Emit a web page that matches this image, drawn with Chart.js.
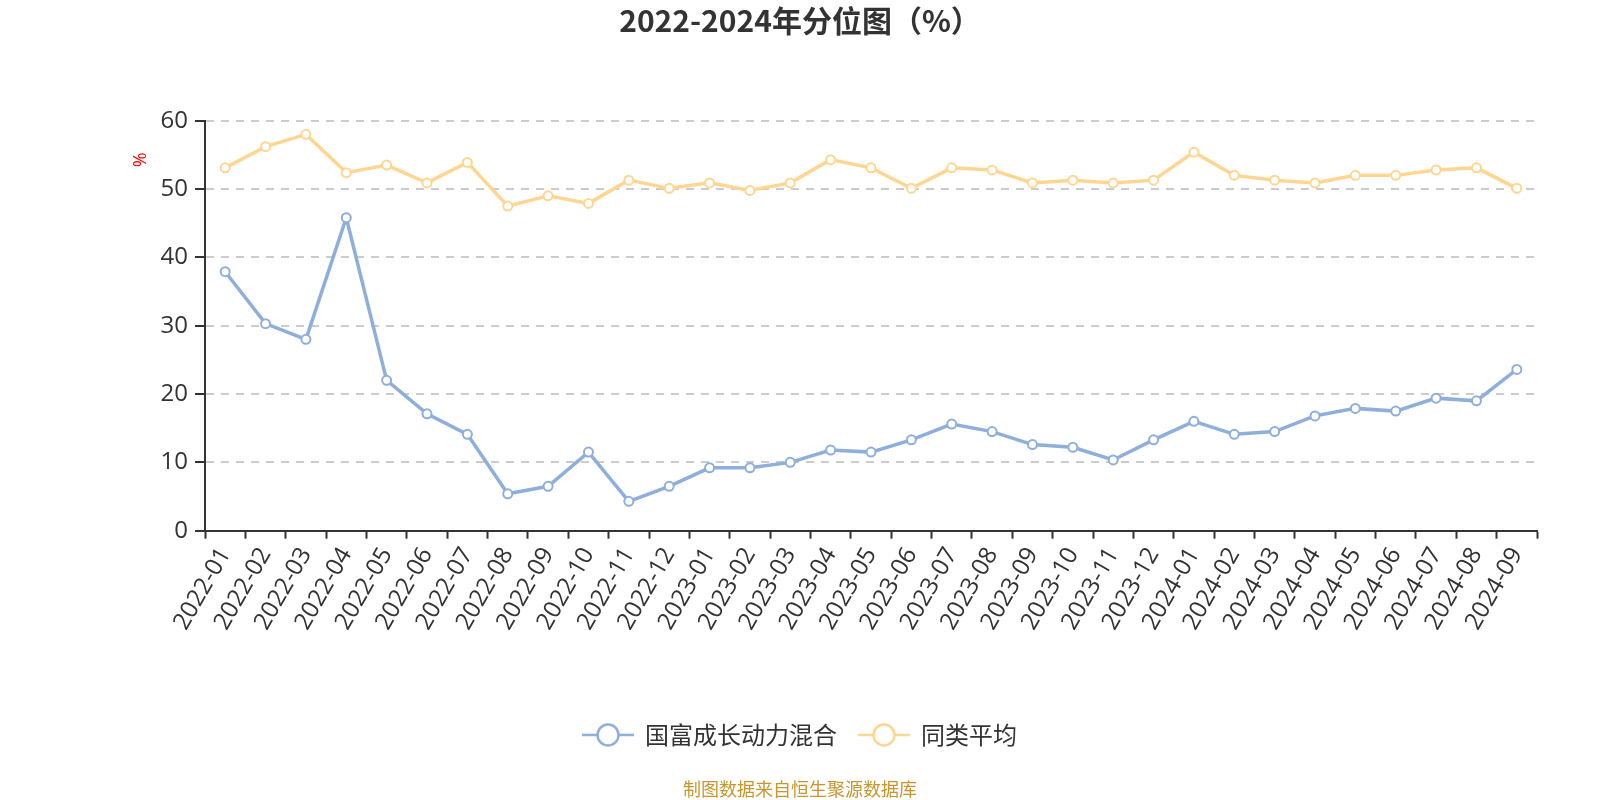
<!DOCTYPE html>
<html>
<head>
<meta charset="utf-8">
<script src="https://cdn.jsdelivr.net/npm/chart.js@4/dist/chart.umd.min.js"></script>
<style>
  html, body { margin: 0; padding: 0; background: #fff; }
  #wrap { width: 1600px; height: 800px; position: relative; }
</style>
</head>
<body>
<div id="wrap"><canvas id="c" width="1600" height="800"></canvas></div>
<script>
const categories = ['2022-01','2022-02','2022-03','2022-04','2022-05','2022-06','2022-07','2022-08','2022-09','2022-10','2022-11','2022-12',
  '2023-01','2023-02','2023-03','2023-04','2023-05','2023-06','2023-07','2023-08','2023-09','2023-10','2023-11','2023-12',
  '2024-01','2024-02','2024-03','2024-04','2024-05','2024-06','2024-07','2024-08','2024-09'];
const fundValues = [37.9, 30.3, 28.0, 45.8, 22.0, 17.1, 14.1, 5.4, 6.5, 11.5, 4.3, 6.5,
  9.2, 9.2, 10.0, 11.8, 11.5, 13.3, 15.6, 14.5, 12.6, 12.2, 10.35, 13.3,
  16.0, 14.1, 14.5, 16.8, 17.9, 17.5, 19.4, 19.0, 23.6];
const peerValues = [53.1, 56.2, 58.0, 52.4, 53.5, 50.9, 53.9, 47.5, 49.0, 47.9, 51.3, 50.1,
  50.9, 49.8, 50.9, 54.3, 53.1, 50.1, 53.1, 52.8, 50.9, 51.3, 50.9, 51.3,
  55.4, 52.0, 51.3, 50.9, 52.0, 52.0, 52.8, 53.1, 50.1];
const seriesNames = ['国富成长动力混合', '同类平均'];
const titleText = '2022-2024年分位图（%）';
const footerText = '制图数据来自恒生聚源数据库';
const yAxisName = '%';

const BLUE = 'rgb(142,174,220)';
const YELLOW = 'rgb(255,214,145)';
const FONT = "'Open Sans', 'Noto Sans CJK SC', sans-serif";
const CJK = "'Noto Sans CJK SC', 'Open Sans', sans-serif";

function legendIcon(color) {
  const cv = document.createElement('canvas');
  cv.width = 52; cv.height = 28;
  const g = cv.getContext('2d');
  g.strokeStyle = color; g.lineWidth = 2.5;
  g.beginPath(); g.moveTo(0, 14); g.lineTo(52, 14); g.stroke();
  g.beginPath(); g.arc(26, 14, 10.5, 0, Math.PI * 2);
  g.fillStyle = '#fff'; g.fill(); g.lineWidth = 2.5; g.stroke();
  return cv;
}
const icons = [legendIcon(BLUE), legendIcon(YELLOW)];

const yNamePlugin = {
  id: 'yName',
  afterDraw(chart) {
    const ctx = chart.ctx;
    const a = chart.chartArea;
    ctx.save();
    ctx.translate(a.left - 64, a.top + 39);
    ctx.rotate(-Math.PI / 2);
    ctx.fillStyle = '#ff0000';
    ctx.font = "18px " + FONT;
    ctx.textAlign = 'center';
    ctx.textBaseline = 'middle';
    ctx.fillText(yAxisName, 0, 0);
    ctx.restore();
  }
};

function mkDataset(label, data, color) {
  return {
    label, data, yAxisID: 'y',
    borderColor: color, backgroundColor: color,
    borderWidth: 3.5,
    pointRadius: 4.5, pointHoverRadius: 5,
    pointBackgroundColor: '#fff', pointBorderColor: color, pointBorderWidth: 2,
    tension: 0, clip: false
  };
}

new Chart(document.getElementById('c'), {
  type: 'line',
  data: {
    labels: categories,
    datasets: [mkDataset(seriesNames[0], fundValues, BLUE), mkDataset(seriesNames[1], peerValues, YELLOW)]
  },
  options: {
    responsive: false,
    animation: false,
    devicePixelRatio: 1,
    layout: { padding: 0 },
    plugins: {
      title: {
        display: true, text: titleText, color: '#333',
        font: { family: CJK, size: 30, weight: 'bold' },
        padding: { top: 3, bottom: 81.7 }
      },
      subtitle: {
        display: true, position: 'bottom', text: footerText, color: '#c9952d',
        font: { family: CJK, size: 18 },
        padding: { top: 21.5, bottom: 0 }
      },
      legend: {
        position: 'bottom',
        labels: {
          usePointStyle: true, pointStyleWidth: 50,
          color: '#333', font: { family: CJK, size: 24 }, padding: 22,
          generateLabels(chart) {
            return chart.data.datasets.map((ds, i) => ({
              text: ds.label, pointStyle: icons[i], fillStyle: '#fff',
              strokeStyle: ds.borderColor, lineWidth: 0, hidden: false, datasetIndex: i, fontColor: '#333'
            }));
          }
        }
      },
      tooltip: { enabled: false }
    },
    scales: {
      x: {
        type: 'category', offset: true,
        afterFit(s) { s.height = 170.2; },
        grid: { display: true, offset: true, drawOnChartArea: false, drawTicks: true, tickLength: 8, tickColor: '#333', tickWidth: 2 },
        border: { display: true, color: '#333', width: 2 },
        ticks: { color: '#333', font: { family: FONT, size: 24 }, minRotation: 60, maxRotation: 60, autoSkip: false, padding: 4 }
      },
      y: {
        position: 'left', min: 0, max: 60,
        afterFit(s) { s.width = 205; },
        grid: { color: '#cccccc', lineWidth: 2, drawTicks: true, tickLength: 10, tickColor: '#333', tickWidth: 2 },
        border: { display: true, color: '#333', width: 2, dash: [8, 7] },
        ticks: { stepSize: 10, color: '#333', font: { family: FONT, size: 24 }, padding: 7 }
      },
      spacer: {
        type: 'linear', position: 'right', display: true,
        afterFit(s) { s.width = 63; },
        grid: { display: false, drawOnChartArea: false, drawTicks: false },
        border: { display: false },
        ticks: { display: false }
      }
    }
  },
  plugins: [yNamePlugin]
});
</script>
</body>
</html>
